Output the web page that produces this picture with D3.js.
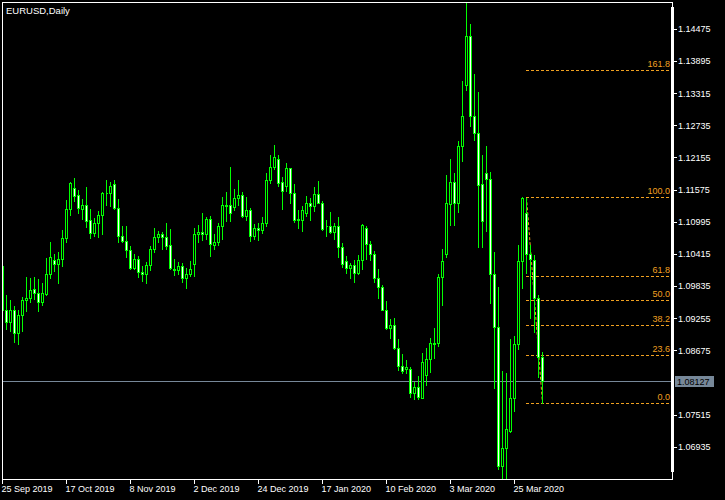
<!DOCTYPE html>
<html><head><meta charset="utf-8">
<script src="https://cdn.jsdelivr.net/npm/d3@7"></script>
<style>
html,body{margin:0;padding:0;background:#000;}
svg{display:block;}
</style></head><body>
<svg id="c" width="725" height="500"></svg>
<script>
// ---------------- DATA ----------------
const chartTitle = "EURUSD,Daily";
const startDate = "2019-09-25";
const holidays = ["2019-12-25", "2020-01-01"];

const opens = [1.1020,1.0942,1.0920,1.0941,1.0899,1.0932,1.0959,1.0962,1.0979,1.0971,
1.0956,1.0970,1.1006,1.1031,1.1025,1.1033,1.1071,1.1123,1.1161,1.1148,
1.1124,1.1130,1.1103,1.1080,1.1099,1.1112,1.1152,1.1152,1.1168,1.1126,
1.1074,1.1065,1.1049,1.1017,1.1033,1.1009,1.1006,1.1022,1.1051,1.1072,
1.1078,1.1072,1.1058,1.1015,1.1013,1.1020,1.0998,1.1007,1.1024,1.1078,
1.1081,1.1078,1.1105,1.1058,1.1063,1.1092,1.1130,1.1130,1.1127,1.1143,
1.1149,1.1111,1.1122,1.1075,1.1090,1.1085,1.1098,1.1175,1.1199,1.1213,
1.1172,1.1164,1.1197,1.1153,1.1105,1.1104,1.1116,1.1134,1.1128,1.1150,
1.1135,1.1093,1.1093,1.1081,1.1092,1.1054,1.1029,1.1017,1.1022,1.1008,
1.1031,1.1090,1.1060,1.1043,1.0998,1.0983,1.0942,1.0909,1.0915,1.0872,
1.0841,1.0834,1.0834,1.0791,1.0803,1.0783,1.0824,1.0852,1.0881,1.0881,
1.1000,1.1042,1.1132,1.1172,1.1134,1.1237,1.1347,1.1435,1.1291,1.1260,
1.1168,1.1188,1.1177,1.1006,1.0911,1.0660,1.0693,1.0722,1.0782,1.0879,
1.1029,1.1116,1.1042,1.1031,1.0962,1.0857];

const highs = [1.1024,1.0968,1.0959,1.0948,1.0942,1.0965,1.1001,1.0999,1.1001,1.0997,
1.0990,1.1035,1.1064,1.1043,1.1046,1.1085,1.1140,1.1172,1.1179,1.1158,
1.1141,1.1163,1.1123,1.1107,1.1119,1.1154,1.1176,1.1172,1.1176,1.1141,
1.1093,1.1093,1.1057,1.1043,1.1039,1.1020,1.1028,1.1057,1.1090,1.1084,
1.1081,1.1098,1.1087,1.1033,1.1027,1.1026,1.1017,1.1030,1.1090,1.1094,
1.1116,1.1109,1.1111,1.1078,1.1098,1.1145,1.1154,1.1199,1.1159,1.1176,
1.1154,1.1145,1.1125,1.1096,1.1098,1.1109,1.1188,1.1220,1.1239,1.1221,
1.1181,1.1206,1.1198,1.1168,1.1122,1.1129,1.1147,1.1144,1.1163,1.1174,
1.1137,1.1104,1.1118,1.1098,1.1109,1.1062,1.1039,1.1026,1.1031,1.1040,
1.1097,1.1092,1.1066,1.1048,1.1015,1.0986,1.0957,1.0925,1.0926,1.0889,
1.0861,1.0851,1.0839,1.0812,1.0822,1.0863,1.0872,1.0890,1.0908,1.1007,
1.1052,1.1185,1.1214,1.1188,1.1246,1.1354,1.1496,1.1457,1.1367,1.1334,
1.1221,1.1237,1.1190,1.1046,1.0982,1.0831,1.0828,1.0889,1.0894,1.1058,
1.1145,1.1144,1.1058,1.1040,1.0968,1.0866];

const lows = [1.0939,1.0907,1.0903,1.0884,1.0879,1.0903,1.0940,1.0956,1.0961,1.0940,
1.0950,1.0968,1.0999,1.1012,1.0990,1.1020,1.1064,1.1113,1.1138,1.1117,
1.1105,1.1091,1.1071,1.1075,1.1073,1.1079,1.1131,1.1128,1.1123,1.1063,
1.1064,1.1036,1.1015,1.1015,1.1001,1.0994,1.0989,1.1014,1.1046,1.1064,
1.1052,1.1052,1.1015,1.1004,1.1007,1.0992,1.0980,1.1003,1.1003,1.1064,
1.1067,1.1069,1.1039,1.1051,1.1058,1.1069,1.1102,1.1102,1.1122,1.1130,
1.1109,1.1104,1.1066,1.1069,1.1067,1.1080,1.1093,1.1170,1.1195,1.1164,
1.1123,1.1156,1.1134,1.1100,1.1090,1.1084,1.1111,1.1104,1.1120,1.1134,
1.1085,1.1075,1.1080,1.1070,1.1036,1.1019,1.1008,1.0998,1.0992,1.1007,
1.1016,1.1034,1.1032,1.0992,1.0963,1.0941,1.0907,1.0891,1.0871,1.0833,
1.0827,1.0827,1.0785,1.0781,1.0780,1.0782,1.0805,1.0830,1.0855,1.0877,
1.0950,1.1036,1.1095,1.1095,1.1118,1.1210,1.1338,1.1273,1.1248,1.1055,
1.1054,1.1084,1.0954,1.0801,1.0654,1.0636,1.0636,1.0721,1.0759,1.0870,
1.0981,1.1008,1.0926,1.0902,1.0821,1.0773];

const closes = [1.0941,1.0920,1.0941,1.0899,1.0932,1.0959,1.0962,1.0977,1.0971,1.0956,
1.0971,1.1006,1.1036,1.1025,1.1033,1.1071,1.1123,1.1170,1.1147,1.1125,
1.1130,1.1102,1.1080,1.1099,1.1112,1.1152,1.1153,1.1165,1.1125,1.1074,
1.1065,1.1049,1.1017,1.1033,1.1009,1.1006,1.1022,1.1051,1.1072,1.1078,
1.1072,1.1057,1.1017,1.1013,1.1020,1.0998,1.1007,1.1015,1.1078,1.1081,
1.1078,1.1105,1.1060,1.1063,1.1092,1.1130,1.1128,1.1117,1.1143,1.1149,
1.1111,1.1122,1.1075,1.1090,1.1085,1.1098,1.1175,1.1199,1.1217,1.1171,
1.1155,1.1197,1.1153,1.1104,1.1104,1.1121,1.1134,1.1128,1.1150,1.1135,
1.1087,1.1092,1.1081,1.1093,1.1054,1.1025,1.1017,1.1023,1.1008,1.1031,
1.1095,1.1060,1.1043,1.0998,1.0982,1.0942,1.0909,1.0915,1.0872,1.0841,
1.0831,1.0839,1.0791,1.0803,1.0784,1.0847,1.0852,1.0881,1.0880,1.1000,
1.1030,1.1134,1.1172,1.1134,1.1237,1.1291,1.1435,1.1291,1.1260,1.1167,
1.1102,1.1177,1.1006,1.0911,1.0660,1.0693,1.0726,1.0782,1.0879,1.1029,
1.1143,1.1043,1.1034,1.0962,1.0857,1.08127];

const currentPrice = 1.08127;
const priceTicks = [1.06935,1.07515,1.08675,1.09255,1.09835,1.10415,1.10995,1.11575,1.12155,1.12735,1.13315,1.13895,1.14475];
const dateTickLabels = ["25 Sep 2019","17 Oct 2019","8 Nov 2019","2 Dec 2019","24 Dec 2019","17 Jan 2020","10 Feb 2020","3 Mar 2020","25 Mar 2020"];

const fibLevels = [0, 23.6, 38.2, 50.0, 61.8, 100.0, 161.8];
const fibPrice0 = 1.07728;
const fibPrice100 = 1.11445;
const fibStartBar = 131;
const fibEndBar = 135;

const priceMin = 1.06363, priceMax = 1.14968;

// ---------------- BUILD ----------------
const fmtDate = d3.timeFormat("%-d %b %Y");
const fmtKey = d3.timeFormat("%Y-%m-%d");
const dates = [];
{
  let d = d3.timeParse("%Y-%m-%d")(startDate);
  while (dates.length < opens.length) {
    const wd = d.getDay();
    if (wd !== 0 && wd !== 6 && !holidays.includes(fmtKey(d))) dates.push(new Date(d));
    d = d3.timeDay.offset(d, 1);
  }
}
const bars = opens.map((o, i) => ({i, date: dates[i], o, h: highs[i], l: lows[i], c: closes[i]}));

const GREEN = "#00ff00", FIB = "#f0a020", SLATE = "#778899";
const FONT = "'Liberation Sans', Arial, sans-serif";
const L = 2, T = 2, R = 672, B = 479;

const svg = d3.select("#c");
svg.append("rect").attr("width", 725).attr("height", 500).attr("fill", "#000");

const x = d3.scaleLinear().domain([0, bars.length - 1]).range([L + 0.5, L + 0.5 + 4 * (bars.length - 1)]);
const y = d3.scaleLinear().domain([priceMin, priceMax]).range([B, T]);

svg.append("clipPath").attr("id", "clip").append("rect")
  .attr("x", L + 1).attr("y", T + 1).attr("width", R - L - 1).attr("height", B - T);

const plot = svg.append("g").attr("clip-path", "url(#clip)");

// Fibonacci
const fibRange = fibPrice100 - fibPrice0;
const fx0 = x(fibStartBar);
const fibG = plot.append("g");
fibG.append("line")
  .attr("x1", fx0).attr("y1", y(fibPrice100))
  .attr("x2", x(fibEndBar)).attr("y2", y(fibPrice0))
  .attr("stroke", FIB).attr("stroke-dasharray", "3,2");
fibLevels.forEach(lv => {
  const py = Math.round(y(fibPrice0 + fibRange * lv / 100)) + 0.5;
  fibG.append("line").attr("x1", fx0 - 0.5).attr("x2", R).attr("y1", py).attr("y2", py)
    .attr("stroke", FIB).attr("stroke-dasharray", "3,2").attr("shape-rendering", "crispEdges");
  svg.append("text").attr("x", R - 2).attr("y", py - 3.5)
    .attr("text-anchor", "end").attr("fill", FIB)
    .attr("font-family", FONT).attr("font-size", 9).text(lv.toFixed(1));
});

// current price line
const cpy = Math.round(y(currentPrice));
plot.append("line").attr("x1", L).attr("x2", R).attr("y1", cpy + 0.5).attr("y2", cpy + 0.5)
  .attr("stroke", SLATE).attr("shape-rendering", "crispEdges");

// candles
const cg = plot.append("g").attr("shape-rendering", "crispEdges");
bars.forEach(d => {
  const cx = x(d.i);
  cg.append("line").attr("x1", cx).attr("x2", cx)
    .attr("y1", Math.round(y(d.h))).attr("y2", Math.round(y(d.l)) + 1)
    .attr("stroke", GREEN);
  const bt = Math.round(y(Math.max(d.o, d.c))) + 0.5;
  const bb = Math.round(y(Math.min(d.o, d.c))) + 0.5;
  cg.append("path").attr("d", `M${cx - 1},${bt}H${cx + 1}V${bb}H${cx - 1}Z`)
    .attr("fill", d.c < d.o ? "#ffffff" : "#000000").attr("stroke", GREEN);
});

// frame
svg.append("rect").attr("x", L + 0.5).attr("y", T + 0.5).attr("width", R - L).attr("height", B - T)
  .attr("fill", "none").attr("stroke", "#fff").attr("shape-rendering", "crispEdges");
svg.append("rect").attr("x", R - 1).attr("y", 7).attr("width", 3).attr("height", 465).attr("fill", "#fff");

// right price axis
const yAxis = d3.axisRight(y).tickValues(priceTicks).tickFormat(d3.format(".5f")).tickSize(3).tickPadding(1).offset(0);
svg.append("g").attr("transform", `translate(${R + 2},0)`).call(yAxis)
  .attr("font-family", FONT).attr("font-size", 9)
  .call(g => g.select(".domain").remove())
  .call(g => g.selectAll("line").attr("stroke", "#fff").attr("shape-rendering", "crispEdges"))
  .call(g => g.selectAll("text").attr("fill", "#fff"));

// bottom date axis
const tickIdx = bars.filter(d => dateTickLabels.includes(fmtDate(d.date))).map(d => d.i);
const xAxis = d3.axisBottom(x).tickValues(tickIdx).tickFormat(i => fmtDate(bars[i].date)).tickSize(5).offset(0);
svg.append("g").attr("transform", `translate(0,${B})`).call(xAxis)
  .attr("font-family", FONT).attr("font-size", 9)
  .call(g => g.select(".domain").remove())
  .call(g => g.selectAll("line").attr("stroke", "#fff").attr("shape-rendering", "crispEdges"))
  .call(g => g.selectAll("text").attr("fill", "#fff").attr("text-anchor", "start")
    .attr("x", -1).attr("y", 13).attr("dy", 0));

// current price label
svg.append("rect").attr("x", R + 3).attr("y", cpy - 5).attr("width", 39).attr("height", 11).attr("fill", SLATE);
svg.append("text").attr("x", R + 5).attr("y", cpy + 3.5).attr("fill", "#000")
  .attr("font-family", FONT).attr("font-size", 9).text(d3.format(".5f")(currentPrice));

// title
svg.append("text").attr("x", 6).attr("y", 14).attr("fill", "#fff")
  .attr("font-family", FONT).attr("font-size", 9.5).text(chartTitle);
</script>
</body></html>
